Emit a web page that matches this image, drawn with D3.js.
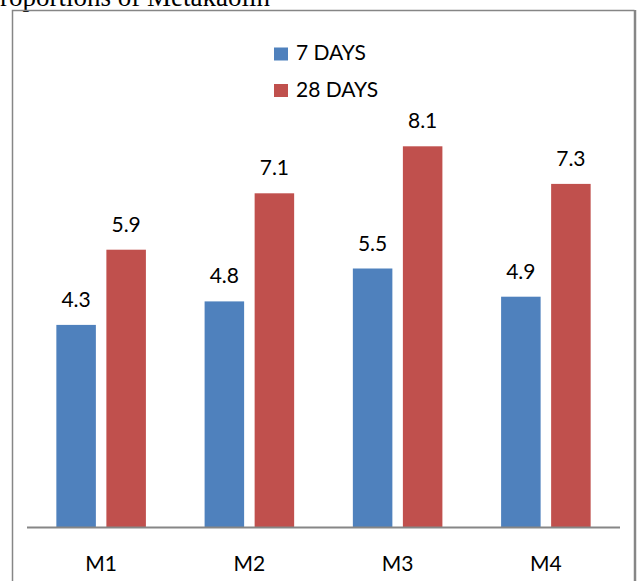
<!DOCTYPE html>
<html>
<head>
<meta charset="utf-8">
<script src="https://cdn.jsdelivr.net/npm/d3@7"></script>
<style>
  html, body { margin: 0; padding: 0; background: #fff; }
  svg { display: block; }
  text { font-family: Lato, "Open Sans", sans-serif; fill: #000; }
</style>
</head>
<body>
<svg id="chart" width="638" height="581"></svg>
<script>
// Compressive strength by metakaolin mix
const categories = ["M1", "M2", "M3", "M4"];
const seriesNames = ["7 DAYS", "28 DAYS"];
const days7 = [4.3, 4.8, 5.5, 4.9];
const days28 = [5.9, 7.1, 8.1, 7.3];
const seriesColors = ["#4F81BD", "#C0504D"];
const seriesValues = [days7, days28];

const svg = d3.select("#chart");
const W = 638, H = 581;

// Heading line that runs above the chart frame
svg.append("text")
  .attr("x", -15).attr("y", 6)
  .style("font-family", "'Liberation Serif', 'Times New Roman', serif")
  .style("font-size", "27px")
  .text("Proportions of Metakaolin");

// Chart frame
const frame = svg.append("g").attr("fill", "none").attr("stroke", "#868686");
frame.append("path")
  .attr("d", `M12.5,${H + 2} V10.5 H634.5`)
  .attr("stroke-width", 1.5);
frame.append("path")
  .attr("d", `M635,10 V${H + 2}`)
  .attr("stroke-width", 2.5);

const plot = { left: 27, right: 620, base: 527 };

const x = d3.scaleBand()
  .domain(categories)
  .range([plot.left, plot.right])
  .paddingInner(0.396)
  .paddingOuter(0.198);

const xInner = d3.scaleBand()
  .domain(seriesNames)
  .range([0, x.bandwidth()])
  .paddingInner(0.21)
  .paddingOuter(0);

const y = d3.scaleLinear()
  .domain([0, 9])
  .range([plot.base, plot.base - 9 * 47]);

const rows = [];
categories.forEach((c, i) => {
  seriesNames.forEach((s, j) => {
    rows.push({ cat: c, series: s, value: seriesValues[j][i], color: seriesColors[j] });
  });
});

// Bars
const bars = svg.append("g");
bars.selectAll("rect")
  .data(rows)
  .join("rect")
  .attr("x", d => x(d.cat) + xInner(d.series))
  .attr("y", d => y(d.value))
  .attr("width", xInner.bandwidth())
  .attr("height", d => y(0) - y(d.value))
  .attr("fill", d => d.color);

// Value labels
svg.append("g")
  .selectAll("text")
  .data(rows)
  .join("text")
  .attr("x", d => x(d.cat) + xInner(d.series) + xInner.bandwidth() / 2)
  .attr("y", d => y(d.value) - 18)
  .attr("text-anchor", "middle")
  .style("font-size", "21px")
  .text(d => d.value.toFixed(1));

// Category axis
const xAxis = d3.axisBottom(x).tickSize(0).tickPadding(0);
const axisG = svg.append("g")
  .attr("transform", `translate(0,${plot.base})`)
  .call(xAxis);
axisG.select(".domain")
  .attr("d", `M${plot.left},0.5H${plot.right}`)
  .attr("stroke", "#868686")
  .attr("stroke-width", 1.8);
axisG.selectAll(".tick text")
  .attr("y", 0)
  .attr("dy", null)
  .attr("transform", "translate(0,43.5)")
  .style("font-family", "Lato, 'Open Sans', sans-serif")
  .style("font-size", "21px")
  .attr("fill", "#000");

// Legend
const legend = svg.append("g");
const legendItems = legend.selectAll("g")
  .data(seriesNames)
  .join("g")
  .attr("transform", (d, i) => `translate(274,${60 + i * 36.5})`);
legendItems.append("rect")
  .attr("x", 0).attr("y", -12.5)
  .attr("width", 14).attr("height", 13)
  .attr("fill", (d, i) => seriesColors[i]);
legendItems.append("text")
  .attr("x", 22).attr("y", 0)
  .style("font-size", "21px")
  .text(d => d);
</script>
</body>
</html>
